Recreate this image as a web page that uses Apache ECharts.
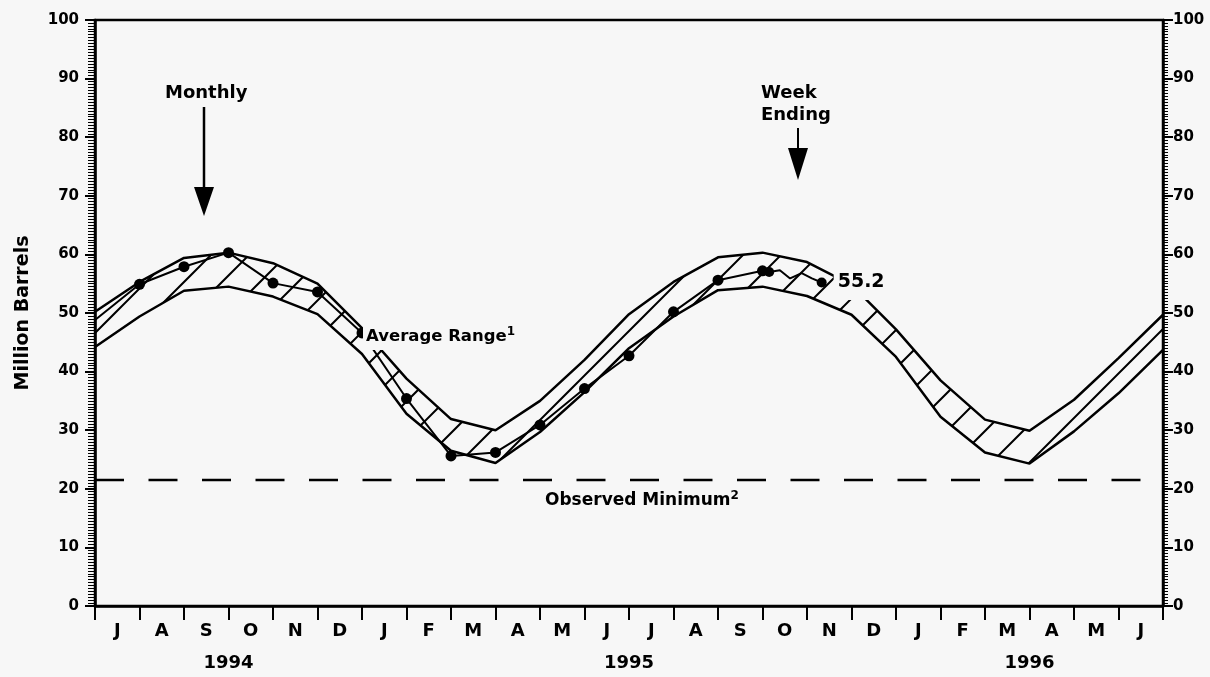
<!DOCTYPE html>
<html>
<head>
<meta charset="utf-8">
<title>Million Barrels</title>
<script src="https://cdn.jsdelivr.net/npm/echarts@6/dist/echarts.min.js"></script>
<style>
  html, body { margin: 0; padding: 0; background: #f7f7f7; }
  #chart { width: 1210px; height: 677px; }
</style>
</head>
<body>
<div id="chart"></div>
<script>
// x = months counted from the end of June 1994 (ticks sit on month ends)
const monthLetters = ['J', 'A', 'S', 'O', 'N', 'D', 'J', 'F', 'M', 'A', 'M', 'J',
  'J', 'A', 'S', 'O', 'N', 'D', 'J', 'F', 'M', 'A', 'M', 'J']
const monthPos = [0.5, 1.5, 2.5, 3.5, 4.5, 5.5, 6.5, 7.5, 8.5, 9.5, 10.5, 11.5,
  12.5, 13.5, 14.5, 15.5, 16.5, 17.5, 18.5, 19.5, 20.5, 21.5, 22.5, 23.5]
const yearLabels = ['1994', '1995', '1996']
const yearPos = [3, 12, 21]

// average range band, one value per month end
const bandX = ['0', '1', '2', '3', '4', '5', '6', '7', '8', '9', '10', '11', '12',
  '13', '14', '15', '16', '17', '18', '19', '20', '21', '22', '23', '24']
const bandUpper = [50.2, 55.3, 59.4, 60.3, 58.5, 55.0, 47.4, 38.8, 31.9, 30.0, 35.0, 42.0, 49.8,
  55.3, 59.5, 60.3, 58.7, 54.8, 47.2, 38.5, 31.8, 29.9, 35.2, 42.3, 49.7]
const bandLower = [44.2, 49.4, 53.8, 54.5, 52.8, 49.8, 43.0, 32.8, 26.5, 24.4, 29.7, 36.5, 44.0,
  49.4, 53.9, 54.5, 52.9, 49.7, 42.5, 32.3, 26.2, 24.3, 29.8, 36.3, 43.7]

// monthly stocks (month ends)
const monthlyX = [0, 1, 2, 3, 4, 5, 6, 7, 8, 9, 10, 11, 12, 13, 14, 15]
const monthlyStock = [48.8, 54.9, 57.9, 60.3, 55.1, 53.6, 46.6, 35.4, 25.6, 26.2, 30.9, 37.1, 42.7, 50.2, 55.6, 57.2]

// week ending stocks
const weeklyX = [15, 15.15, 15.39, 15.62, 15.88, 16.11, 16.33]
const weeklyStock = [57.2, 57.0, 57.3, 55.9, 56.8, 55.9, 55.2]

const minimumX = [0, 24]
const minimumLevel = [21.5, 21.5]

const font = 'DejaVu Sans'
const bg = '#f7f7f7'

// diagonal hatch tile, lines where x + y = 10 (mod 38)
function hatchTile() {
  const size = 38
  const shift = 10
  const c = document.createElement('canvas')
  c.width = size
  c.height = size
  const ctx = c.getContext('2d')
  ctx.strokeStyle = '#000'
  ctx.lineWidth = 2
  ctx.beginPath()
  ctx.moveTo(-4, shift + 4)
  ctx.lineTo(shift + 4, -4)
  ctx.moveTo(shift - 4, size + 4)
  ctx.lineTo(size + 4, shift - 4)
  ctx.stroke()
  return c
}

const chart = echarts.init(document.getElementById('chart'))

const yAxisBase = {
  type: 'value',
  min: 0,
  max: 100,
  interval: 10,
  z: 5,
  splitLine: { show: false },
  axisLine: { show: true, onZero: false, lineStyle: { color: '#000', width: 2.5 } },
  axisTick: { show: true, length: 10, lineStyle: { color: '#000', width: 2 } },
  minorTick: { show: true, splitNumber: 20, length: 7, lineStyle: { color: '#000', width: 1 } },
  minorSplitLine: { show: false }
}

chart.setOption({
  animation: false,
  backgroundColor: bg,
  grid: {
    left: 95,
    right: 47,
    top: 20,
    bottom: 71,
    show: true,
    borderColor: '#000',
    borderWidth: 2.5,
    backgroundColor: 'transparent',
    containLabel: false,
    outerBoundsMode: 'none'
  },
  xAxis: [
    {
      type: 'value',
      min: 0,
      max: 24,
      interval: 1,
      position: 'bottom',
      z: 5,
      splitLine: { show: false },
      axisLine: { onZero: false, lineStyle: { color: '#000', width: 2.5 } },
      axisTick: { length: 14, lineStyle: { color: '#000', width: 2 } },
      axisLabel: {
        customValues: monthPos,
        formatter: v => monthLetters[Math.floor(v)],
        margin: 16,
        color: '#000',
        fontFamily: font,
        fontWeight: 'bold',
        fontSize: 18
      }
    },
    {
      type: 'value',
      min: 0,
      max: 24,
      position: 'bottom',
      splitLine: { show: false },
      axisLine: { show: false, onZero: false },
      axisTick: { show: false },
      axisLabel: {
        customValues: yearPos,
        formatter: v => yearLabels[yearPos.indexOf(v)],
        margin: 48,
        color: '#000',
        fontFamily: font,
        fontWeight: 'bold',
        fontSize: 18
      }
    },
    {
      // hidden month-end axis that carries the stacked band
      type: 'category',
      data: bandX,
      boundaryGap: false,
      position: 'bottom',
      show: false
    }
  ],
  yAxis: [
    Object.assign({}, yAxisBase, {
      position: 'left',
      name: 'Million Barrels',
      nameLocation: 'middle',
      nameGap: 62,
      nameTextStyle: { color: '#000', fontFamily: font, fontWeight: 'bold', fontSize: 19 },
      axisLabel: { margin: 16, color: '#000', fontFamily: font, fontWeight: 'bold', fontSize: 15 }
    }),
    Object.assign({}, yAxisBase, {
      position: 'right',
      minorTick: { show: true, splitNumber: 20, length: 5, lineStyle: { color: '#000', width: 1 } },
      axisLabel: { margin: 10, color: '#000', fontFamily: font, fontWeight: 'bold', fontSize: 15 }
    })
  ],
  series: [
    {
      name: 'Average Range low',
      type: 'line',
      xAxisIndex: 2,
      stack: 'band',
      symbol: 'none',
      z: 2,
      lineStyle: { color: '#000', width: 2.5 },
      data: bandLower
    },
    {
      name: 'Average Range',
      type: 'line',
      xAxisIndex: 2,
      stack: 'band',
      symbol: 'none',
      z: 2,
      lineStyle: { color: '#000', width: 2.5 },
      areaStyle: { color: { image: hatchTile(), repeat: 'repeat' }, opacity: 1 },
      data: bandUpper.map((u, i) => +(u - bandLower[i]).toFixed(2))
    },
    {
      name: 'Observed Minimum',
      type: 'line',
      symbol: 'none',
      z: 2,
      lineStyle: { color: '#000', width: 2.5, type: [29, 24.5] },
      data: minimumX.map((x, i) => [x, minimumLevel[i]])
    },
    {
      name: 'Monthly',
      type: 'line',
      z: 3,
      symbolSize: 11,
      itemStyle: { color: '#000' },
      lineStyle: { color: '#000', width: 2 },
      data: monthlyX.map((x, i) => ({ value: [x, monthlyStock[i]], symbol: i === 0 ? 'none' : 'circle' }))
    },
    {
      name: 'Week Ending',
      type: 'line',
      z: 3,
      symbolSize: 10,
      itemStyle: { color: '#000' },
      lineStyle: { color: '#000', width: 2 },
      data: weeklyX.map((x, i) => {
        const last = i === weeklyX.length - 1
        return {
          value: [x, weeklyStock[i]],
          symbol: (i === 1 || last) ? 'circle' : 'none',
          label: last ? {
            show: true,
            position: 'right',
            distance: 7,
            backgroundColor: bg,
            padding: [8, 4, 8, 4],
            color: '#000',
            fontFamily: font,
            fontWeight: 'bold',
            fontSize: 19,
            formatter: () => weeklyStock[i].toFixed(1)
          } : { show: false }
        }
      })
    }
  ],
  graphic: [
    {
      type: 'text',
      z: 100,
      left: 165,
      top: 84,
      style: { text: 'Monthly', fill: '#000', font: 'bold 18px "DejaVu Sans"' }
    },
    {
      type: 'line',
      z: 100,
      shape: { x1: 204, y1: 107, x2: 204, y2: 192 },
      style: { stroke: '#000', lineWidth: 2.5 }
    },
    {
      type: 'polygon',
      z: 100,
      shape: { points: [[194, 187], [214, 187], [204, 216]] },
      style: { fill: '#000' }
    },
    {
      type: 'text',
      z: 100,
      left: 761,
      top: 82,
      style: { text: 'Week\nEnding', fill: '#000', font: 'bold 18px "DejaVu Sans"', lineHeight: 22 }
    },
    {
      type: 'line',
      z: 100,
      shape: { x1: 798, y1: 128, x2: 798, y2: 152 },
      style: { stroke: '#000', lineWidth: 2 }
    },
    {
      type: 'polygon',
      z: 100,
      shape: { points: [[788, 148], [808, 148], [798, 180]] },
      style: { fill: '#000' }
    },
    {
      type: 'text',
      z: 100,
      left: 363,
      top: 324,
      style: {
        text: '{a|Average Range}{s|1}',
        backgroundColor: bg,
        padding: [2, 2, 2, 3],
        rich: {
          a: { fill: '#000', fontFamily: font, fontWeight: 'bold', fontSize: 16.5, lineHeight: 22 },
          s: { fill: '#000', fontFamily: font, fontWeight: 'bold', fontSize: 12, verticalAlign: 'top', lineHeight: 14 }
        }
      }
    },
    {
      type: 'text',
      z: 100,
      left: 545,
      top: 490,
      style: {
        text: '{a|Observed Minimum}{s|2}',
        rich: {
          a: { fill: '#000', fontFamily: font, fontWeight: 'bold', fontSize: 17, lineHeight: 22 },
          s: { fill: '#000', fontFamily: font, fontWeight: 'bold', fontSize: 12, verticalAlign: 'top', lineHeight: 14 }
        }
      }
    }
  ]
})
</script>
</body>
</html>
